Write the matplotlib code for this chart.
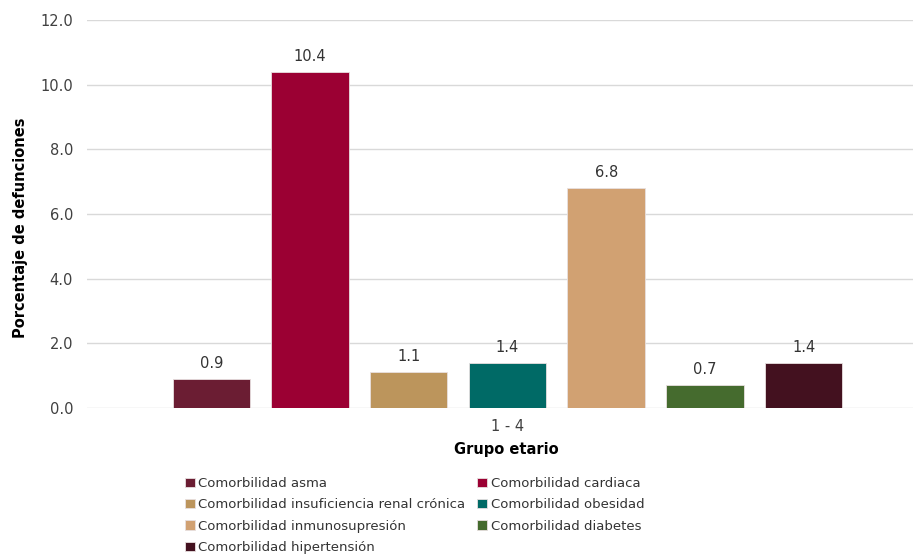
import matplotlib.pyplot as plt
from matplotlib.ticker import FormatStrFormatter

# data
group = "1 - 4"
series = [
    "Comorbilidad asma",
    "Comorbilidad cardiaca",
    "Comorbilidad insuficiencia renal crónica",
    "Comorbilidad obesidad",
    "Comorbilidad inmunosupresión",
    "Comorbilidad diabetes",
    "Comorbilidad hipertensión",
]
values = [0.9, 10.4, 1.1, 1.4, 6.8, 0.7, 1.4]
colors = ["#6B1D33", "#9B0033", "#BC955C", "#006A66",
          "#D1A172", "#456B2E", "#43111F"]

plt.rcParams['font.family'] = ['DejaVu Sans']

fig = plt.figure(figsize=(9.13, 5.57), dpi=100)
ax = fig.add_axes([87 / 913, 1 - 408 / 557, 826 / 913, 388 / 557])

# bars for one category, side by side
step = 0.12
width = 0.094
handles = []
for i, (name, v, c) in enumerate(zip(series, values, colors)):
    x = (i - 3) * step
    b = ax.bar(x, v, width=width, color=c, edgecolor="#e8e0e0",
               linewidth=0.6, label=name, zorder=3)
    handles.append(b)
    ax.text(x, v + 0.25, f"{v:.1f}", ha="center", va="bottom",
            fontsize=10.5, color="#333333")

ax.set_xlim(-0.511, 0.493)
ax.set_ylim(0, 12)
ax.set_yticks(range(0, 13, 2))
ax.yaxis.set_major_formatter(FormatStrFormatter("%.1f"))
ax.set_xticks([0])
ax.set_xticklabels([group])
ax.grid(axis="y", color="#d9d9d9", linewidth=1, zorder=0)
for s in ax.spines.values():
    s.set_visible(False)
ax.tick_params(length=0, labelsize=10.5, colors="#404040")
ax.tick_params(axis="y", pad=10)
ax.tick_params(axis="x", pad=8)
ax.set_xlabel("Grupo etario", fontsize=10.5, fontweight="bold", va="center")
ax.xaxis.set_label_coords(0.508, -0.108)
ax.set_ylabel("Porcentaje de defunciones", fontsize=10.5, fontweight="bold",
              va="center")
ax.yaxis.set_label_coords(-0.081, 0.464)

# legend: row-wise order in two columns
order = [0, 2, 4, 6, 1, 3, 5]
fig.legend([handles[i] for i in order], [series[i] for i in order],
           loc="upper left", bbox_to_anchor=(180 / 913, 1 - 472 / 557),
           ncol=2, frameon=False, fontsize=9.5, handlelength=0.7,
           handleheight=0.7, handletextpad=0.3, columnspacing=0.9,
           labelspacing=0.62, labelcolor="#333333", borderaxespad=0)

plt.savefig("out.png", dpi=100)
